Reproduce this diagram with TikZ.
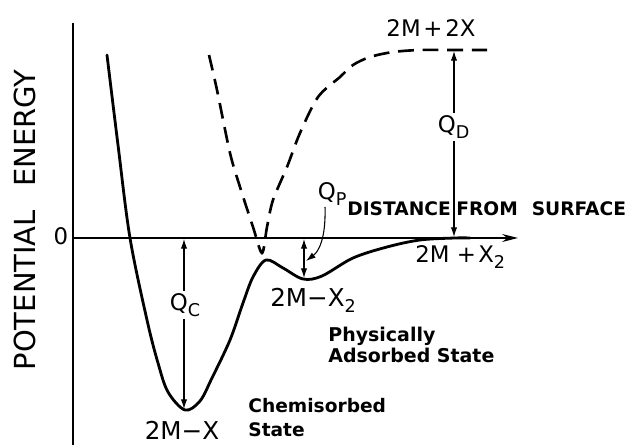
\documentclass[tikz,border=0pt]{standalone}
\usepackage{fontspec}
\setmainfont{DejaVu Sans}
\usetikzlibrary{arrows.meta}
\newcommand\lowsub[1]{\raisebox{-0.42ex}{\fontsize{10}{12}\selectfont #1}}
\begin{document}
\begin{tikzpicture}[x=0.02cm,y=-0.02cm,
  curve/.style={line width=1.6pt, line cap=round, line join=round},
  dashcurve/.style={line width=1.5pt, dash pattern=on 9pt off 5pt},
  axis/.style={line width=0.9pt},
  tipq/.tip={Latex[length=5.5pt,width=3.6pt]},
  qarrow/.style={line width=0.6pt, -tipq},
  lab/.style={inner sep=0pt, font=\fontsize{13}{15}\selectfont},
  biglab/.style={inner sep=0pt, font=\fontsize{14}{16}\selectfont},
  qlab/.style={inner sep=1.5pt, font=\fontsize{13}{15}\selectfont},
  note/.style={inner sep=0pt, font=\bfseries\fontsize{10.6}{13}\selectfont, align=left},
]
\useasboundingbox (0,0) rectangle (637,445);

% axes
\coordinate (O) at (73,238);
\coordinate (ytop) at (73,23);
\coordinate (ybot) at (73,445);
\coordinate (xend) at (518,238);
\draw[axis] (ytop) -- (ybot);
\draw[axis,-{Stealth[length=9pt,width=4.5pt]}] (O) -- (xend);

% solid curve (chemisorption)
\draw[curve] plot[smooth, tension=0.55] coordinates {
  (107,55) (118,145) (130,238) (147,320) (158,363) (168,392) (185,410)
  (200,401) (212,378) (230,340) (243,303) (253,277) (266,260)
  (283,268) (303,279) (322,276) (353,258) (387,247) (420,240) (455,238) (470,238)};

% dashed curve (atoms)
\draw[dashcurve] plot[smooth, tension=0.5] coordinates {
  (209,55) (217,90) (230,153) (240,187) (253,227) (262,253)
  (267,227) (273,200) (287,167) (300,133) (318,97) (340,77) (353,65)
  (370,57) (393,52) (420,50) (450,50) (487,50)};

% labels
\node[rotate=90, inner sep=0pt, font=\fontsize{16.5}{18}\selectfont] (pe) at (25,220) {POTENTIAL\hspace{0.8em}ENERGY};
\node[lab] (zero) at (61,236) {0};
\node[lab, anchor=base] (l2m2x) at (431,37) {2M\hspace{0.12em}+\hspace{0.12em}2X};
\node[note, anchor=base west] (dist) at (347,216) {DISTANCE\hspace{0.3em}FROM\hspace{0.75em}SURFACE};
\node[biglab, anchor=base] (l2mx) at (182,440) {2M−X};
\node[biglab, anchor=base west] (l2mx2) at (270,307) {2M−X\lowsub{2}};
\node[lab, anchor=base west] (l2mpx2) at (415,263) {2M +\hspace{0.1em}X\lowsub{2}};
\node[note, anchor=base west, font=\bfseries\fontsize{10.6}{13.7}\selectfont] (chem) at (248,437) {Chemisorbed\\State};
\node[note, anchor=base west, font=\bfseries\fontsize{10.8}{12.5}\selectfont] (phys) at (328,363) {Physically\\Adsorbed State};

% Q_D
\coordinate (qdtop) at (454,51);
\coordinate (qdbot) at (454,237);
\node[qlab, anchor=base west] (qd) at (435,133) {Q\lowsub{D}};
\draw[qarrow] (qdtop |- qd.north) -- (qdtop);
\draw[qarrow] (qdbot |- qd.south) -- (qdbot);

% Q_C
\coordinate (qctop) at (184,239);
\coordinate (qcbot) at (184,409);
\node[qlab, anchor=base west] (qc) at (167,311) {Q\lowsub{C}};
\draw[qarrow] (qctop |- qc.north) -- (qctop);
\draw[qarrow] (qcbot |- qc.south) -- (qcbot);

% Q_P
\coordinate (qptop) at (304,239);
\coordinate (qpbot) at (304,278);
\coordinate (qpmid) at (306,261);
\coordinate (qptail) at (325,207);
\node[qlab, anchor=base west] (qp) at (315,200) {Q\lowsub{P}};
\draw[qarrow, tipq-tipq] (qptop) -- (qpbot);
\draw[qarrow] (qptail) .. controls (326,240) and (318,252) .. (qpmid);
\end{tikzpicture}
\end{document}
